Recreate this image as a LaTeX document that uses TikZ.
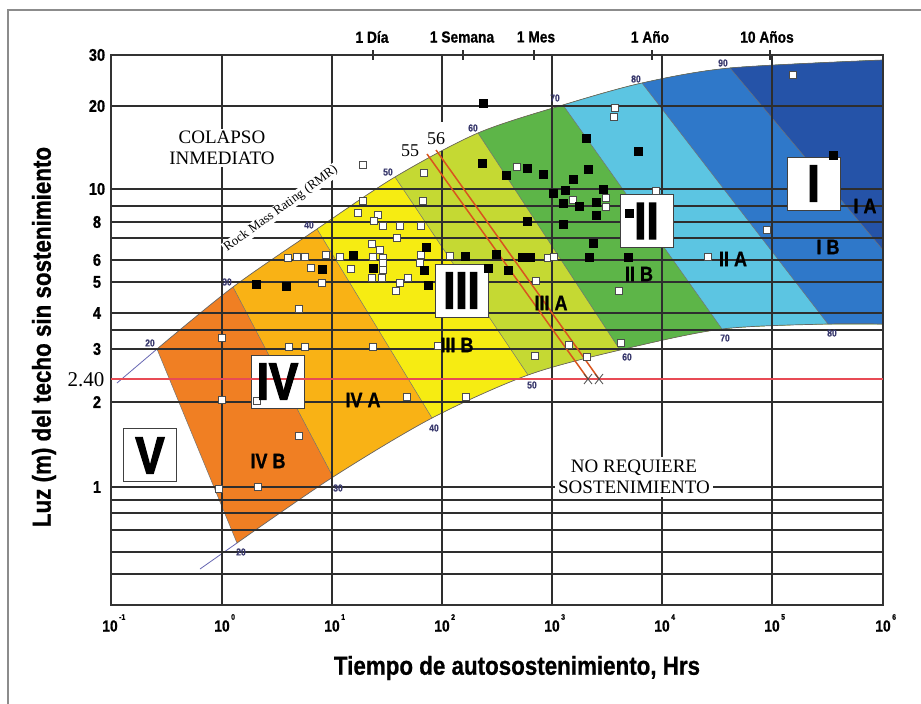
\documentclass[tikz,border=0pt]{standalone}
\usepackage{fontspec}
\setmainfont{Liberation Serif}
\newfontfamily\cf{Liberation Sans}[FakeStretch=0.86, BoldFeatures={FakeBold=0.8}]
\newfontfamily\cfh{Liberation Sans}[FakeStretch=0.84, BoldFeatures={FakeBold=2.5}]
\usetikzlibrary{calc}
\definecolor{cIVB}{HTML}{F07F23}
\definecolor{cIVA}{HTML}{F9B215}
\definecolor{cIIIB}{HTML}{F6EC12}
\definecolor{cIIIA}{HTML}{C5D933}
\definecolor{cIIB}{HTML}{5DB548}
\definecolor{cIIA}{HTML}{5CC5E2}
\definecolor{cIB}{HTML}{2F78C9}
\definecolor{cIA}{HTML}{2553A8}
\definecolor{rmrnum}{HTML}{3A3A6E}
\definecolor{redl}{HTML}{E84B55}
\definecolor{orl}{HTML}{D9541E}
\tikzset{
  framel/.style={line width=1.6pt, draw=black!45},
  gridln/.style={line width=1.3pt, draw=black!82},
  bord/.style={line width=1.5pt, draw=black!80},
  zline/.style={line width=0.5pt, draw=black!55},
  curveln/.style={line width=0.7pt, draw=black!60},
  extln/.style={line width=0.8pt, draw=black!50!blue!60},
  wsq/.style={fill=white, draw=black!70, line width=0.6pt},
  boxst/.style={fill=white, draw=black!75, line width=0.9pt},
  serl/.style={font=\fontsize{19}{21}\selectfont, align=center, fill=white, inner sep=2pt},
  ylab/.style={font=\cf\bfseries\fontsize{17}{17}\selectfont},
  xlab/.style={font=\cf\bfseries\fontsize{16}{16}\selectfont},
  xsup/.style={font=\cf\bfseries\fontsize{8}{8}\selectfont, inner sep=0pt, anchor=west},
  toplab/.style={font=\cf\bfseries\fontsize{16}{16}\selectfont},
  titlelab/.style={font=\cf\bfseries\fontsize{26}{26}\selectfont},
  boxlab/.style={font=\cfh\bfseries\fontsize{52}{52}\selectfont, inner sep=0pt},
  zonelab/.style={font=\cf\bfseries\fontsize{21}{21}\selectfont, inner sep=0pt},
  rmrlab/.style={font=\cf\bfseries\fontsize{10}{10}\selectfont, text=rmrnum, inner sep=0pt},
  redln/.style={line width=2pt, draw=redl},
  rl/.style={line width=1.5pt, draw=orl},
  xm/.style={line width=0.8pt, draw=black!70}
}
\begin{document}
\begin{tikzpicture}[x=1pt,y=-1pt]
\useasboundingbox (0,0) rectangle (921,704);
\fill[white] (0,0) rectangle (921,704);
% outer frame
\draw[framel] (8,704) -- (8,10) -- (921,10);

% coloured band
\begin{scope}
\clip plot[smooth] coordinates {(157,349) (233,287) (317,229) (395,177) (478,133) (563,105) (642,83) (730,68) (883,60)} -- (883,324) -- plot[smooth] coordinates {(828,324) (722,329) (620,350) (528,375) (432,418) (333,477) (237,543)} -- cycle;
\fill[cIVB] (100,0) rectangle (900,600);
\foreach \ux/\uy/\lx/\ly/\col in {233/287/333/477/cIVA, 317/229/432/418/cIIIB, 395/177/528/375/cIIIA, 478/133/620/350/cIIB, 563/105/722/329/cIIA, 642/83/828/324/cIB, 730/68/883/250/cIA}{
  \fill[\col] ({\ux-3*(\lx-\ux)},{\uy-3*(\ly-\uy)}) -- ({\ux+4*(\lx-\ux)},{\uy+4*(\ly-\uy)}) -- (2000,{\uy+4*(\ly-\uy)}) -- (2000,{\uy-3*(\ly-\uy)}) -- cycle;
  \draw[zline] (\ux,\uy) -- (\lx,\ly);
}
\end{scope}
\draw[curveln] plot[smooth] coordinates {(157,349) (233,287) (317,229) (395,177) (478,133) (563,105) (642,83) (730,68) (883,60)};
\draw[curveln] plot[smooth] coordinates {(883,324) (828,324) (722,329) (620,350) (528,375) (432,418) (333,477) (237,543)};
\draw[zline] (157,349) -- (237,543);
\draw[extln] (157,349) -- (117,383);
\draw[extln] (237,543) -- (200,569);

% grid
\foreach \y in {106,189,206,222,238,260,282,313,330,349,402,487,500,513,530,552,574}
  \draw[gridln] (111,\y) -- (883,\y);
\foreach \x in {222,332,552,662,772}
  \draw[gridln] (\x,55) -- (\x,605);
\draw[gridln] (442,55) -- (442,122);
\draw[gridln] (442,151) -- (442,605);
\foreach \x in {373,463,534,652,770}
  \draw[gridln] (\x,50) -- (\x,60);
\draw[bord] (111,55) rectangle (883,605);

% white-backed labels
\node[serl] (colapso) at (222,148) {COLAPSO\\INMEDIATO};
\node[serl, inner sep=3pt] (noreq) at (634,477) {NO REQUIERE\\SOSTENIMIENTO};
\node[fill=white, inner sep=1pt, rotate=36, font=\fontsize{13}{13}\selectfont] (rmr) at (281,209) {Rock Mass Rating (RMR)};

% class boxes
\foreach \x/\y in {787/157, 620/194, 435/264, 251/355, 123/428}
  \draw[boxst] (\x,\y) rectangle ++(53,53);

% red lines
\draw[redln] (111,379) -- (883,379);
\draw[rl] (427,154) -- (588,379);
\draw[rl] (436,150) -- (599,379);
\foreach \x in {588,599}
  \draw[xm] (\x-4,374) -- (\x+4,384) (\x-4,384) -- (\x+4,374);

% data squares
\foreach \x/\y in {222/338, 289/347, 305/347, 373/347, 222/400, 257/401, 299/436, 219/489, 258/487, 407/397, 299/309, 322/283, 466/397,
  363/165, 424/173, 363/201, 423/201, 358/213, 378/215, 374/221, 383/226, 400/226, 421/226, 397/238, 372/244, 380/250, 288/258, 297/257, 305/257, 326/255, 340/257, 373/257, 383/258, 421/255, 311/268, 351/269, 383/263, 383/270, 420/263, 372/278, 382/278, 408/278, 400/283, 396/291, 450/256, 438/346,
  517/167, 573/200, 606/198, 606/207, 548/258, 554/257, 536/281, 535/356, 569/345, 587/357, 621/343, 619/291,
  615/108, 614/117, 656/191, 708/257, 767/230, 793/75}
  \filldraw[wsq] (\x-3.5,\y-3.5) rectangle ++(7,7);
\foreach \x/\y in {256/284, 286/286, 322/269, 353/255, 373/268, 426/247, 424/270, 428/285, 465/256, 483/103, 586/138, 638/151, 482/163, 506/175, 527/168, 543/174, 588/169, 573/179, 553/193, 565/190, 603/189, 563/203, 579/206, 596/202, 596/215, 527/221, 563/224, 593/243, 589/257, 629/213, 628/257, 496/254, 522/257, 530/257, 488/268, 508/270, 833/155}
  \fill[black] (\x-4.5,\y-4.5) rectangle ++(9,9);

% box letters
\node[boxlab] (lI) at (813.5,183.5) {I};
\node[boxlab] (lII) at (646.5,221) {II};
\node[boxlab] (lIII) at (461.5,290.5) {III};
\node[boxlab] (lIV) at (277.5,381.5) {IV};
\node[boxlab] (lV) at (150,455.5) {V};

% zone labels
\node[zonelab] (zIVB) at (268,461) {IV B};
\node[zonelab] (zIVA) at (363,400) {IV A};
\node[zonelab] (zIIIB) at (457,345) {III B};
\node[zonelab] (zIIIA) at (551,303) {III A};
\node[zonelab] (zIIB) at (639,274) {II B};
\node[zonelab] (zIIA) at (733,259) {II A};
\node[zonelab] (zIB) at (828,247) {I B};
\node[zonelab] (zIA) at (865,206) {I A};

% RMR numbers
\foreach \v/\x/\y [count=\i] in {20/150/343, 30/227/282, 40/309/225, 50/388/172, 60/473/128, 70/555/98, 80/636/79, 90/723/63}
  \node[rmrlab] (ru\i) at (\x,\y) {\v};
\foreach \v/\x/\y [count=\i] in {20/241/552, 30/338/488, 40/434/428, 50/532/385, 60/627/357, 70/725/338, 80/832/333}
  \node[rmrlab] (rl\i) at (\x,\y) {\v};

% 55 / 56
\node[font=\fontsize{18}{18}\selectfont, inner sep=0pt] (n55) at (410,151) {55};
\node[font=\fontsize{18}{18}\selectfont, inner sep=0pt] (n56) at (436,139) {56};

% axis numbers
\foreach \v/\y in {30/55,20/106,10/189,8/222,6/260,5/282,4/313,3/349,2/402,1/487}
  \node[ylab] (yl\v) at (97,\y) {\v};
\node[font=\fontsize{21}{21}\selectfont, inner sep=0pt] (y240) at (86,380) {2.40};
\foreach \e/\x [count=\i] in {-1/110,0/222,1/332,2/442,3/552,4/662,5/772,6/883}{
  \node[xlab] (xl\i) at (\x,626) {10};
  \node[xsup] (xs\i) at (\x+9,617) {\e};
}
\node[toplab] (t1) at (372,37) {1 Día};
\node[toplab] (t2) at (462,37) {1 Semana};
\node[toplab] (t3) at (536,37) {1 Mes};
\node[toplab] (t4) at (650,37) {1 Año};
\node[toplab] (t5) at (767,37) {10 Años};

% titles
\node[titlelab, rotate=90] (ytitle) at (44,337) {Luz (m) del techo sin sostenimiento};
\node[titlelab] (xtitle) at (517,668) {Tiempo de autosostenimiento, Hrs};
\end{tikzpicture}
\end{document}
